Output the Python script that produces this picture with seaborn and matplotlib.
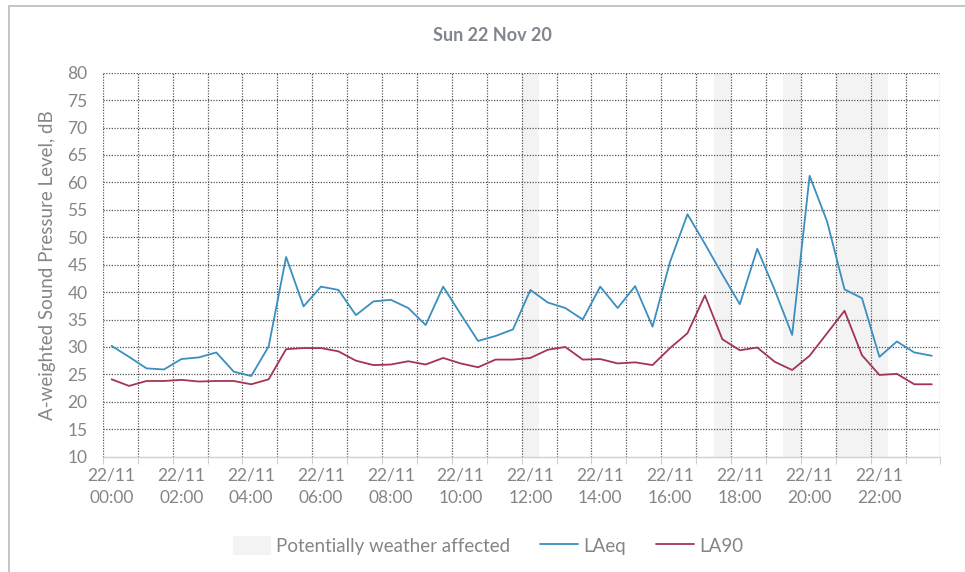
import matplotlib
matplotlib.use("Agg")
import matplotlib.pyplot as plt
from matplotlib.patches import Patch, Rectangle
from matplotlib.lines import Line2D
import seaborn as sns
import pandas as pd

# Half-hourly periods for Sunday 22 Nov 2020
periods = [f"22/11 {h:02d}:{m:02d}" for h in range(24) for m in (0, 30)]

laeq = [30.2, 28.2, 26.1, 25.9, 27.8, 28.1, 29.0, 25.5, 24.7, 30.1,
        46.4, 37.4, 41.0, 40.4, 35.8, 38.3, 38.6, 37.1, 34.0, 41.0,
        36.0, 31.1, 32.0, 33.2, 40.4, 38.1, 37.1, 35.0, 41.0, 37.1,
        41.1, 33.7, 45.5, 54.2, 48.8, 43.2, 37.8, 47.9, 40.4, 32.2,
        61.2, 52.9, 40.5, 38.9, 28.2, 31.0, 29.0, 28.4]

la90 = [24.1, 22.9, 23.8, 23.8, 24.0, 23.7, 23.8, 23.8, 23.2, 24.1,
        29.6, 29.8, 29.8, 29.2, 27.5, 26.7, 26.8, 27.4, 26.8, 28.0,
        27.0, 26.3, 27.7, 27.7, 28.0, 29.5, 30.0, 27.7, 27.8, 27.0,
        27.2, 26.7, 29.8, 32.5, 39.4, 31.4, 29.4, 29.9, 27.3, 25.8,
        28.4, 32.5, 36.6, 28.5, 24.9, 25.1, 23.2, 23.2]

# Periods flagged as potentially weather affected
weather_periods = ["22/11 12:00", "22/11 17:30", "22/11 19:30",
                   "22/11 21:00", "22/11 21:30", "22/11 22:00"]

tick_labels = [f"22/11\n{h:02d}:00" for h in range(0, 24, 2)]
y_ticks = list(range(10, 81, 5))

series_names = ["LAeq", "LA90"]
series_colors = ["#3a8fbf", "#a33552"]

df = pd.DataFrame({"period": periods, "idx": range(len(periods)),
                   "LAeq": laeq, "LA90": la90})
long = df.melt(id_vars=["period", "idx"], value_vars=series_names,
               var_name="series", value_name="level")

sns.set_theme(style="white")
plt.rcParams["font.family"] = ["Lato", "DejaVu Sans"]

text_grey = "#858585"
band_grey = "#f3f3f3"
fig = plt.figure(figsize=(9.65, 5.72), dpi=100)
ax = fig.add_axes([0.1066, 0.2016, 0.868, 0.6713])

# weather-affected bands
for p in weather_periods:
    i = periods.index(p)
    ax.axvspan(i - 0.5, i + 0.5, color=band_grey, lw=0, zorder=0)

sns.lineplot(data=long, x="idx", y="level", hue="series",
             palette=dict(zip(series_names, series_colors)),
             linewidth=1.3, ax=ax, legend=False, zorder=3)

n = len(periods)
ax.set_xlim(-0.5, n - 0.5)
ax.set_ylim(10, 80)

# dotted grid: hourly verticals, 5 dB horizontals
grid_kw = dict(color="#555555", lw=0.9, linestyle=(0, (1, 1.2)), zorder=1)
for k in range(0, n + 1, 2):
    ax.axvline(k - 0.5, **grid_kw)
for y in y_ticks[1:]:
    ax.axhline(y, **grid_kw)

for s in ["top", "right", "left"]:
    ax.spines[s].set_visible(False)
ax.spines["bottom"].set_color("#d0d0d0")
ax.spines["bottom"].set_linewidth(1.0)

ax.set_yticks(y_ticks)
ax.set_yticklabels([str(v) for v in y_ticks])
ax.set_xticks([periods.index(f"22/11 {h:02d}:00") for h in range(0, 24, 2)])
ax.set_xticklabels(tick_labels, linespacing=1.5)
ax.set_xticks([k - 0.5 for k in range(0, n + 1, 2)], minor=True)
ax.tick_params(axis="x", which="major", length=0, pad=8,
               labelsize=12.5, labelcolor=text_grey)
ax.tick_params(axis="x", which="minor", length=5, width=0.8,
               color="#d0d0d0", direction="out", bottom=True)
ax.tick_params(axis="y", length=0, pad=11, labelsize=12.5,
               labelcolor=text_grey)

ax.set_xlabel("")
ax.set_ylabel("A-weighted Sound Pressure Level, dB", fontsize=13.5,
              color=text_grey, labelpad=8)

fig.text(0.51, 0.938, "Sun 22 Nov 20", ha="center", va="center",
         fontsize=13, fontweight="bold", color="#808590")

handles = [Patch(facecolor=band_grey, edgecolor="none"),
           Line2D([], [], color=series_colors[0], lw=1.3),
           Line2D([], [], color=series_colors[1], lw=1.3)]
fig.legend(handles, ["Potentially weather affected"] + series_names,
           loc="center", bbox_to_anchor=(0.506, 0.046), ncol=3,
           frameon=False, fontsize=13.5, labelcolor=text_grey,
           handlelength=2.0, handleheight=1.2, columnspacing=1.6,
           handletextpad=0.3)

# chart frame
fig.add_artist(Rectangle((9 / 965, -0.2), 1.2, 1.2 - 6 / 572, fill=False,
                         edgecolor="#c0c0c0", lw=1.3,
                         transform=fig.transFigure))

fig.savefig("out.png", dpi=100, facecolor="white")
